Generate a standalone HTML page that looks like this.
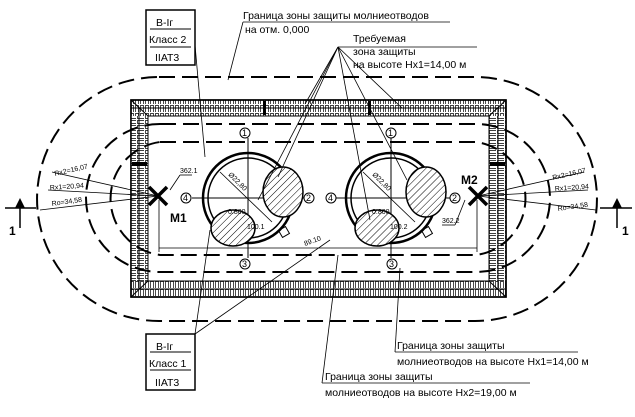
<!DOCTYPE html>
<html><head><meta charset="utf-8"><style>
html,body{margin:0;padding:0;background:#fff;width:635px;height:417px;overflow:hidden}
text{font-family:"Liberation Sans","DejaVu Sans",sans-serif;fill:#000}
</style></head><body>
<svg width="635" height="417" viewBox="0 0 635 417" xmlns="http://www.w3.org/2000/svg">
<defs>
<pattern id="tv" width="5" height="8" patternUnits="userSpaceOnUse"><rect width="5" height="8" fill="#fff"/><path d="M0.5 8 V1.5 H3.5 V8" fill="none" stroke="#000" stroke-width="0.7"/></pattern>
<pattern id="th" width="8" height="5" patternUnits="userSpaceOnUse"><rect width="8" height="5" fill="#fff"/><path d="M8 0.5 H1.5 V3.5 H8" fill="none" stroke="#000" stroke-width="0.7"/></pattern>
<pattern id="hatch" width="5" height="5" patternUnits="userSpaceOnUse" patternTransform="rotate(45)"><rect width="5" height="5" fill="#fff"/><line x1="0" y1="0" x2="0" y2="5" stroke="#000" stroke-width="1"/></pattern>
</defs>
<g fill="none" stroke="#000">
<path d="M159 77 L475 77 A122 122 0 0 1 475 321 L159 321 A122 122 0 0 1 159 77 Z" stroke-width="2" stroke-dasharray="16,7"/>
<rect x="131" y="100" width="375" height="197" fill="url(#tv)" stroke-width="1.5"/>
<rect x="131" y="116" width="17" height="165" fill="url(#th)" stroke="none"/>
<rect x="489" y="116" width="17" height="165" fill="url(#th)" stroke="none"/>
<rect x="131" y="100" width="375" height="197" fill="none" stroke-width="1.5"/>
<rect x="148" y="116" width="341" height="165" fill="#fff" stroke-width="1"/>
<line x1="131" y1="108" x2="506" y2="108" stroke-width="1"/>
<line x1="131" y1="289" x2="506" y2="289" stroke-width="1"/>
<line x1="139" y1="108" x2="139" y2="289" stroke-width="1"/>
<line x1="498" y1="108" x2="498" y2="289" stroke-width="1"/>
<rect x="263" y="101" width="3" height="14" fill="#000" stroke="none"/>
<rect x="368" y="101" width="3" height="14" fill="#000" stroke="none"/>
<rect x="132" y="162" width="15" height="4" fill="#000" stroke="none"/>
<rect x="490" y="162" width="15" height="4" fill="#000" stroke="none"/>
<line x1="131" y1="100" x2="148" y2="116"/><line x1="506" y1="100" x2="489" y2="116"/>
<line x1="131" y1="297" x2="148" y2="281"/><line x1="506" y1="297" x2="489" y2="281"/>
<path d="M160 124 L476 124 A74 74 0 0 1 476 272 L160 272 A74 74 0 0 1 160 124 Z" stroke-width="2" stroke-dasharray="16,7"/>
<path d="M160 142 L476 142 A57 57 0 0 1 476 255 L160 255 A57 57 0 0 1 160 142 Z" stroke-width="2" stroke-dasharray="16,7"/>
<g stroke-width="1">
<line x1="248" y1="138" x2="248" y2="258"/><line x1="192" y1="198" x2="306" y2="198"/>
<line x1="391" y1="138" x2="391" y2="258"/><line x1="336" y1="198" x2="450" y2="198"/>
</g>
<circle cx="248" cy="198" r="45" stroke-width="2.5"/><circle cx="248" cy="198" r="40" stroke-width="1.5"/>
<circle cx="391" cy="198" r="45" stroke-width="2.5"/><circle cx="391" cy="198" r="40" stroke-width="1.5"/>
<ellipse cx="283" cy="192" rx="20" ry="25" fill="url(#hatch)" stroke-width="1.5"/>
<ellipse cx="233" cy="228" rx="22" ry="18" fill="url(#hatch)" stroke-width="1.5"/>
<ellipse cx="426" cy="192" rx="20" ry="25" fill="url(#hatch)" stroke-width="1.5"/>
<ellipse cx="377" cy="228" rx="22" ry="18" fill="url(#hatch)" stroke-width="1.5"/>
<rect x="280" y="228" width="8" height="8" transform="rotate(-30 284 232)"/>
<rect x="423" y="228" width="8" height="8" transform="rotate(-30 427 232)"/>
<line x1="220" y1="172" x2="272" y2="222" stroke-width="0.8"/><line x1="363" y1="172" x2="415" y2="222" stroke-width="0.8"/>
<g stroke-width="1" fill="#fff">
<circle cx="245" cy="133" r="5"/><circle cx="309" cy="198" r="5"/><circle cx="186" cy="198" r="5"/><circle cx="245" cy="264" r="5"/>
<circle cx="391" cy="133" r="5"/><circle cx="455" cy="198" r="5"/><circle cx="331" cy="198" r="5"/><circle cx="392" cy="264" r="5"/>
</g>
<line x1="159" y1="248" x2="477" y2="248" stroke-width="0.8"/>
<line x1="159" y1="200" x2="159" y2="252" stroke-width="0.8"/><line x1="477" y1="200" x2="477" y2="252" stroke-width="0.8"/>
<g stroke-width="0.8">
<line x1="195" y1="45" x2="205" y2="157"/>
<line x1="195" y1="334" x2="210" y2="230"/><line x1="195" y1="334" x2="330" y2="240"/>
<line x1="243" y1="22" x2="228" y2="80"/><line x1="243" y1="22" x2="450" y2="22"/>
<line x1="338" y1="47" x2="477" y2="47"/>
<line x1="338" y1="47" x2="258" y2="200"/><line x1="338" y1="47" x2="278" y2="177"/>
<line x1="338" y1="47" x2="370" y2="220"/><line x1="338" y1="47" x2="407" y2="180"/>
<line x1="338" y1="47" x2="305" y2="104"/><line x1="338" y1="47" x2="402" y2="108"/>
<line x1="395" y1="352" x2="400" y2="268"/><line x1="395" y1="352" x2="578" y2="352"/>
<line x1="322" y1="383" x2="338" y2="255"/><line x1="322" y1="383" x2="530" y2="383"/>
<line x1="158" y1="196" x2="52" y2="172"/><line x1="158" y1="196" x2="48" y2="190"/><line x1="158" y1="196" x2="40" y2="210"/>
<line x1="478" y1="196" x2="584" y2="172"/><line x1="478" y1="196" x2="588" y2="190"/><line x1="478" y1="196" x2="596" y2="210"/>
<line x1="170" y1="190" x2="180" y2="175"/><line x1="180" y1="175" x2="192" y2="175"/>
<line x1="465" y1="200" x2="455" y2="225"/><line x1="455" y1="225" x2="442" y2="225"/>
</g>
<line x1="5" y1="208" x2="36" y2="208" stroke-width="1.5"/><line x1="20" y1="208" x2="20" y2="228" stroke-width="1.5"/>
<line x1="600" y1="208" x2="632" y2="208" stroke-width="1.5"/><line x1="617" y1="208" x2="617" y2="228" stroke-width="1.5"/>
<rect x="146" y="10" width="49" height="55" stroke-width="1.5"/>
<line x1="150" y1="29" x2="191" y2="29"/><line x1="150" y1="47" x2="191" y2="47"/>
<rect x="146" y="334" width="49" height="56" stroke-width="1.5"/>
<line x1="150" y1="352" x2="191" y2="352"/><line x1="150" y1="370" x2="191" y2="370"/>
</g>
<polygon points="20,198 15,208 25,208" fill="#000"/>
<polygon points="617,198 612,208 622,208" fill="#000"/>
<g stroke="#000" stroke-width="3.5"><line x1="149" y1="187" x2="167" y2="205"/><line x1="167" y1="187" x2="149" y2="205"/>
<line x1="469" y1="187" x2="487" y2="205"/><line x1="487" y1="187" x2="469" y2="205"/></g>
<g font-size="10.5">
<text x="156" y="26">В-Iг</text><text x="149" y="43">Класс 2</text><text x="155" y="61">IIАТ3</text>
<text x="156" y="350">В-Iг</text><text x="149" y="367">Класс 1</text><text x="155" y="386">IIАТ3</text>
<text x="243" y="19">Граница зоны защиты молниеотводов</text>
<text x="245" y="33">на отм. 0,000</text>
<text x="353" y="42">Требуемая</text><text x="353" y="55">зона защиты</text><text x="353" y="68">на высоте Hx1=14,00 м</text>
<text x="397" y="349">Граница зоны защиты</text><text x="397" y="365">молниеотводов на высоте Hx1=14,00 м</text>
<text x="325" y="380">Граница зоны защиты</text><text x="325" y="396">молниеотводов на высоте Hx2=19,00 м</text>
</g>
<g font-size="12" font-weight="bold"><text x="170" y="222">M1</text><text x="461" y="184">M2</text>
<text x="9" y="235">1</text><text x="622" y="235">1</text></g>
<g font-size="7">
<text x="55" y="176" transform="rotate(-13 55 176)">Rx2=16,07</text>
<text x="50" y="190" transform="rotate(-4 50 190)">Rx1=20,94</text>
<text x="52" y="206" transform="rotate(-8 52 206)">Ro=34,58</text>
<text x="553" y="180" transform="rotate(-13 553 180)">Rx2=16,07</text>
<text x="555" y="191" transform="rotate(-4 555 191)">Rx1=20,94</text>
<text x="558" y="211" transform="rotate(-8 558 211)">Ro=34,58</text>
<text x="180" y="173">362.1</text><text x="442" y="223">362.2</text>
<text x="305" y="246" transform="rotate(-20 305 246)">89.10</text>
<text x="228" y="175" transform="rotate(45 228 175)">Ø22,80</text>
<text x="372" y="175" transform="rotate(45 372 175)">Ø22,80</text>
<text x="247" y="229">100.1</text><text x="390" y="229">100.2</text>
<text x="228" y="214">0.800</text><text x="372" y="214">0.800</text>
<g font-size="9"><text x="242" y="136">1</text><text x="306" y="201">2</text><text x="183" y="201">4</text><text x="242" y="267">3</text>
<text x="388" y="136">1</text><text x="452" y="201">2</text><text x="328" y="201">4</text><text x="389" y="267">3</text></g>
</g>
</svg>
</body></html>
